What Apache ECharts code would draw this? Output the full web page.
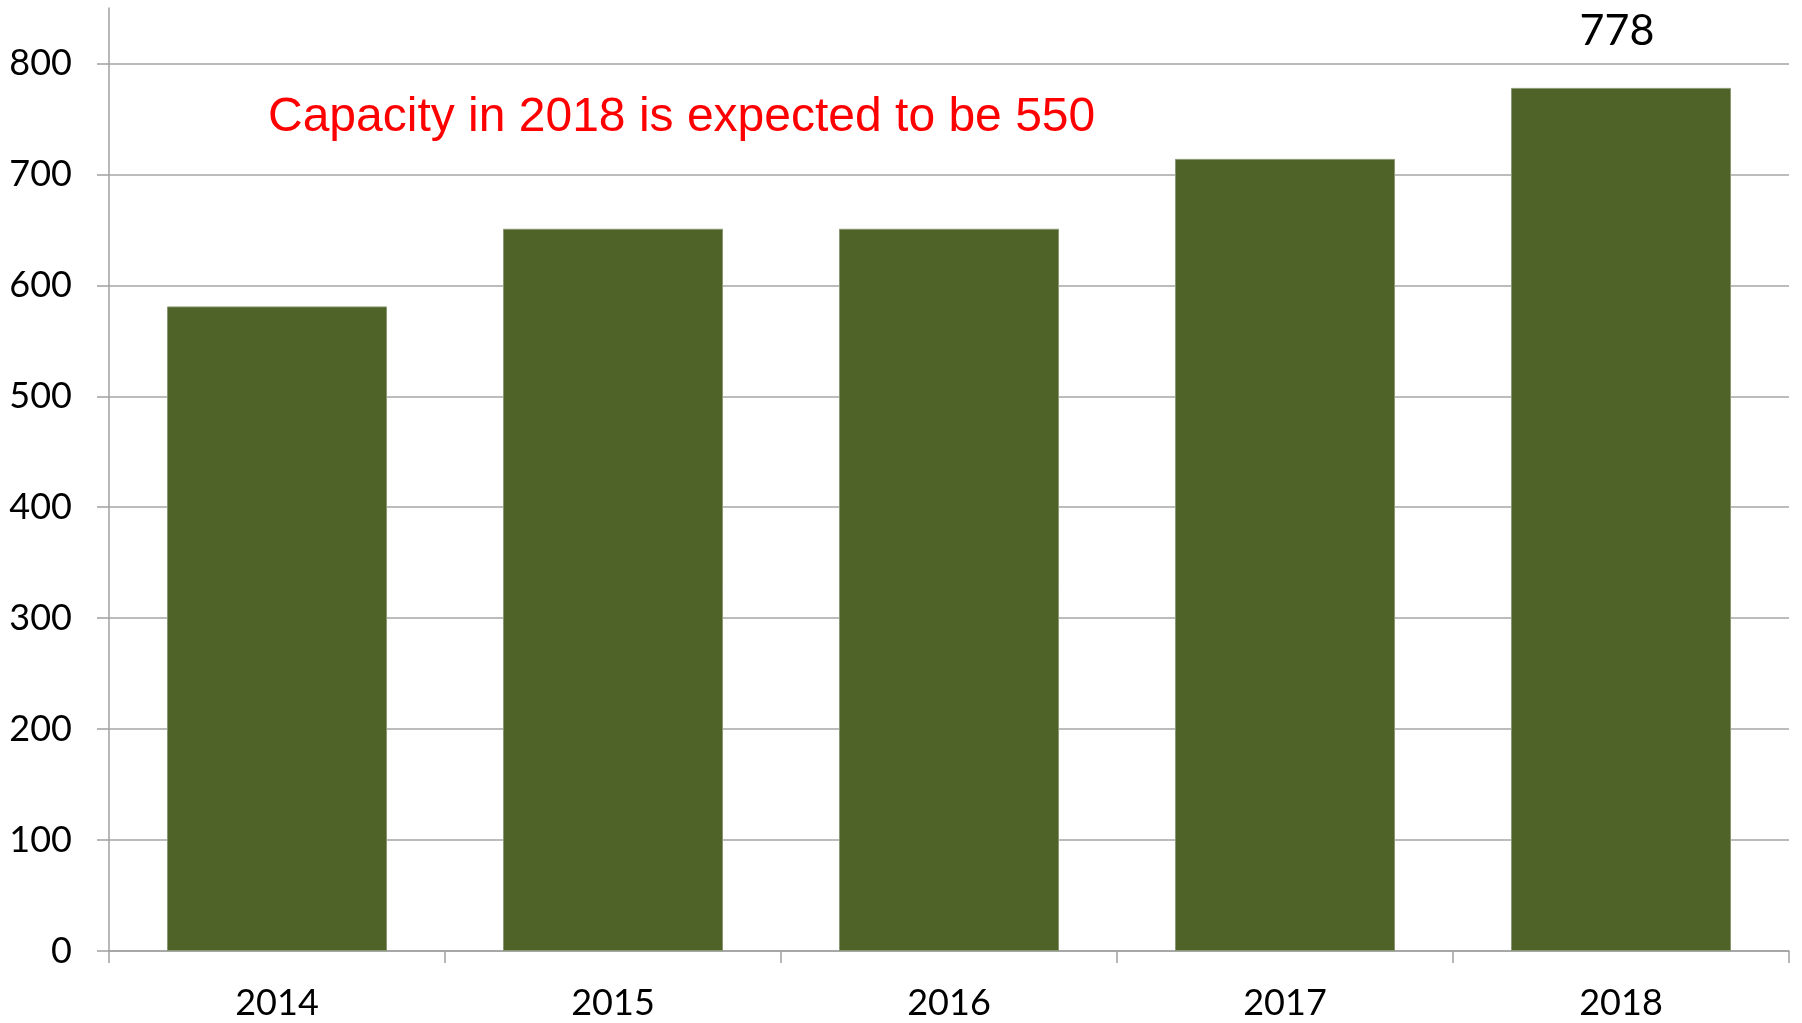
<!DOCTYPE html>
<html>
<head>
<meta charset="utf-8">
<script src="https://cdn.jsdelivr.net/npm/echarts@6/dist/echarts.min.js"></script>
<style>
  html, body { margin: 0; padding: 0; background: #ffffff; }
  #chart { width: 1802px; height: 1023px; }
</style>
</head>
<body>
<div id="chart"></div>
<script>
const categories = ['2014', '2015', '2016', '2017', '2018'];
const capacity = [581, 651, 651, 714, 778];
const labelledYears = ['2018'];
const yTicks = [0, 100, 200, 300, 400, 500, 600, 700, 800];
const noteText = 'Capacity in 2018 is expected to be 550';

const chart = echarts.init(document.getElementById('chart'), null, { renderer: 'canvas' });

const axisFont = 'Lato';

const option = {
  backgroundColor: '#ffffff',
  animation: false,
  grid: { left: 109, right: 13, top: 8, bottom: 72, containLabel: false },
  xAxis: {
    type: 'category',
    data: categories,
    boundaryGap: true,
    axisLine: { show: true, lineStyle: { color: '#a0a0a0', width: 1.5 } },
    axisTick: { show: true, alignWithLabel: false, length: 12, lineStyle: { color: '#a0a0a0', width: 1.5 } },
    axisLabel: { color: '#000000', fontFamily: axisFont, fontSize: 36, margin: 34 },
    splitLine: { show: false }
  },
  yAxis: {
    type: 'value',
    min: 0,
    max: 850,
    interval: 100,
    axisLine: { show: true, lineStyle: { color: '#a0a0a0', width: 1.5 } },
    axisTick: { show: true, length: 12, lineStyle: { color: '#a0a0a0', width: 1.5 }, customValues: yTicks },
    axisLabel: { color: '#000000', fontFamily: axisFont, fontSize: 36, margin: 37, customValues: yTicks },
    splitLine: { show: true, lineStyle: { color: '#a6a6a6', width: 1.5 } }
  },
  series: [{
    type: 'bar',
    barWidth: 220,
    data: capacity.map((v, i) => labelledYears.includes(categories[i])
      ? { value: v, label: { show: true } }
      : v),
    itemStyle: { color: '#4F6228', borderColor: '#8a9872', borderWidth: 1 },
    label: {
      show: false,
      position: 'top',
      distance: 35,
      offset: [-4, 0],
      color: '#000000',
      fontFamily: axisFont,
      fontSize: 43
    }
  }],
  graphic: [{
    type: 'text',
    x: 268,
    y: 118,
    style: {
      text: noteText,
      fill: '#ff0000',
      font: '48px "Liberation Sans", Arial, sans-serif',
      align: 'left',
      verticalAlign: 'middle'
    }
  }]
};

chart.setOption(option);
</script>
</body>
</html>
